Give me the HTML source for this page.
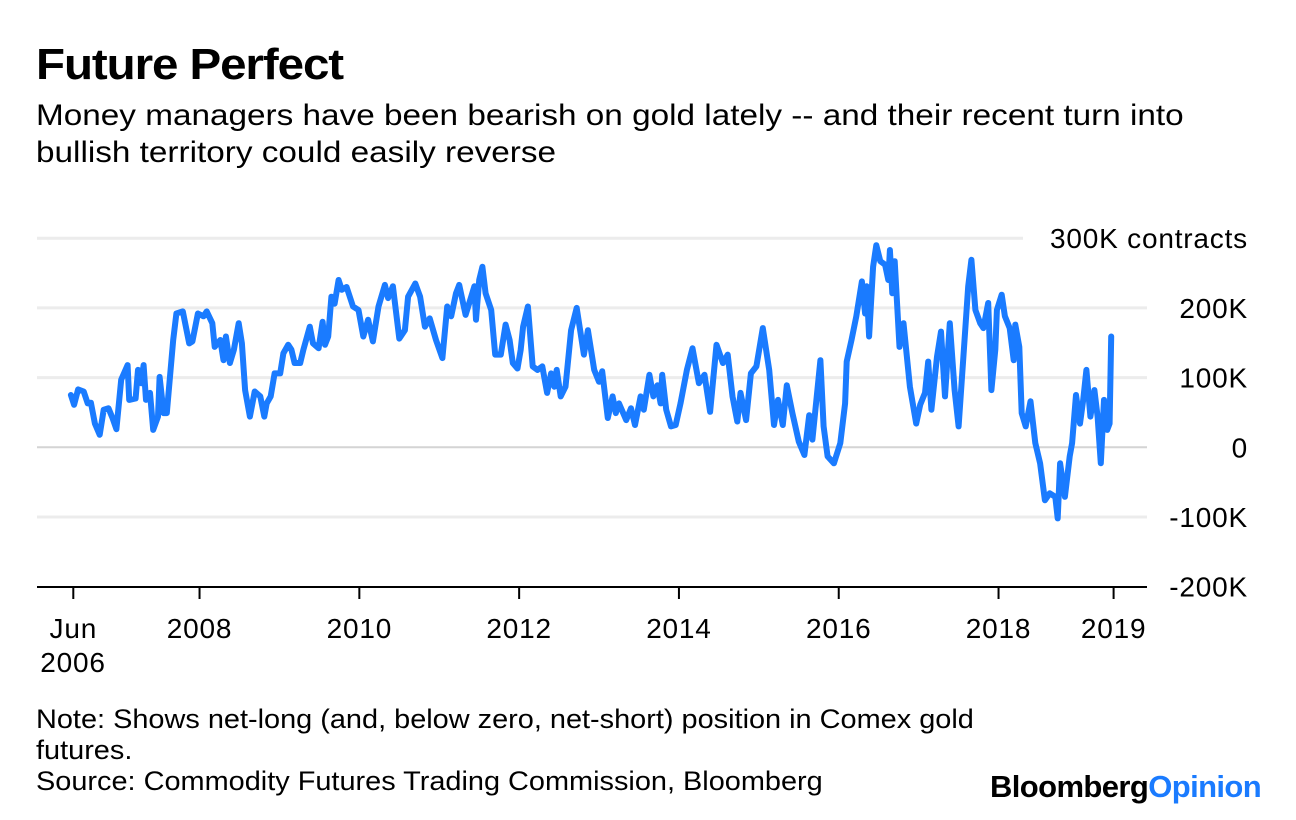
<!DOCTYPE html>
<html><head><meta charset="utf-8"><style>
html,body{margin:0;padding:0;background:#fff;}
body{width:1296px;height:820px;overflow:hidden;font-family:"Liberation Sans",sans-serif;color:#000;position:relative;}
.t{position:absolute;white-space:nowrap;transform-origin:0 0;}
</style></head><body>
<div class="t" style="left:36px;top:40px;font-size:44px;font-weight:bold;letter-spacing:-1px;transform:scaleX(1.08);">Future Perfect</div>
<div class="t" style="left:36px;top:97px;font-size:30px;line-height:37px;transform:scaleX(1.11);">Money managers have been bearish on gold lately -- and their recent turn into<br>bullish territory could easily reverse</div>
<svg id="chart" width="1296" height="700" style="position:absolute;left:0;top:0;"></svg>
<div class="t" style="left:36px;top:704px;font-size:27px;line-height:31px;transform:scaleX(1.07);">Note: Shows net-long (and, below zero, net-short) position in Comex gold<br>futures.<br>Source: Commodity Futures Trading Commission, Bloomberg</div>
<div class="t" style="left:990px;top:769px;font-size:31px;font-weight:bold;letter-spacing:-0.6px;">Bloomberg<span style="color:#1a7bff">Opinion</span></div>
<script>
const dates=[2006.39,2006.43,2006.48,2006.55,2006.60,2006.64,2006.69,2006.75,2006.80,2006.86,2006.91,2006.96,2007.02,2007.10,2007.12,2007.20,2007.23,2007.27,2007.30,2007.33,2007.38,2007.42,2007.48,2007.50,2007.55,2007.59,2007.67,2007.71,2007.79,2007.87,2007.91,2007.98,2008.05,2008.09,2008.16,2008.19,2008.26,2008.30,2008.33,2008.38,2008.43,2008.49,2008.53,2008.57,2008.63,2008.69,2008.76,2008.81,2008.84,2008.89,2008.94,2009.01,2009.05,2009.11,2009.15,2009.19,2009.26,2009.30,2009.38,2009.42,2009.49,2009.54,2009.57,2009.61,2009.65,2009.69,2009.74,2009.78,2009.84,2009.92,2009.99,2010.05,2010.11,2010.17,2010.24,2010.32,2010.36,2010.42,2010.50,2010.57,2010.61,2010.70,2010.76,2010.82,2010.88,2010.96,2011.04,2011.10,2011.15,2011.21,2011.25,2011.33,2011.40,2011.44,2011.46,2011.50,2011.54,2011.58,2011.65,2011.70,2011.77,2011.83,2011.88,2011.92,2011.98,2012.02,2012.05,2012.11,2012.17,2012.23,2012.29,2012.35,2012.40,2012.44,2012.47,2012.52,2012.58,2012.65,2012.72,2012.81,2012.86,2012.94,2013.00,2013.04,2013.11,2013.17,2013.21,2013.25,2013.34,2013.40,2013.45,2013.52,2013.56,2013.63,2013.68,2013.73,2013.77,2013.79,2013.84,2013.90,2013.96,2014.02,2014.10,2014.17,2014.25,2014.32,2014.39,2014.47,2014.55,2014.61,2014.67,2014.73,2014.77,2014.84,2014.90,2014.97,2015.05,2015.13,2015.19,2015.24,2015.30,2015.35,2015.42,2015.50,2015.57,2015.63,2015.67,2015.77,2015.81,2015.86,2015.94,2016.02,2016.08,2016.10,2016.16,2016.22,2016.29,2016.33,2016.35,2016.38,2016.43,2016.47,2016.52,2016.58,2016.62,2016.64,2016.67,2016.70,2016.76,2016.81,2016.89,2016.97,2017.02,2017.08,2017.12,2017.16,2017.23,2017.28,2017.33,2017.39,2017.45,2017.50,2017.56,2017.62,2017.66,2017.71,2017.77,2017.81,2017.87,2017.91,2017.96,2017.98,2018.04,2018.08,2018.14,2018.19,2018.21,2018.26,2018.29,2018.34,2018.40,2018.46,2018.52,2018.58,2018.64,2018.71,2018.74,2018.77,2018.83,2018.89,2018.92,2018.97,2019.02,2019.06,2019.10,2019.15,2019.20,2019.24,2019.28,2019.32,2019.36,2019.39,2019.41];
const values=[75,61,83,80,63,64,34,18,54,56,42,26,97,118,68,70,111,92,118,68,78,25,44,101,49,49,154,192,195,149,152,192,188,195,178,144,154,125,159,121,140,178,149,82,44,80,73,44,63,73,106,106,135,147,140,121,121,140,173,149,142,180,147,159,216,206,240,226,230,202,197,159,183,152,202,233,214,231,156,168,216,235,216,173,185,154,128,202,188,221,233,190,216,231,183,240,259,221,197,133,133,176,154,121,113,140,173,202,116,111,116,78,106,87,111,73,87,168,200,133,168,111,94,109,42,73,49,63,39,56,32,73,54,104,73,89,63,104,54,30,32,63,111,142,92,104,51,147,121,133,73,37,78,39,106,116,171,111,32,68,32,89,49,8,-11,46,11,125,30,-13,-23,6,63,123,154,188,238,192,231,159,259,290,267,262,240,283,221,267,144,178,87,34,61,78,123,54,130,166,73,178,82,30,130,231,269,197,178,171,207,82,140,197,219,188,171,125,176,144,49,30,66,6,-23,-76,-66,-71,-102,-23,-71,-13,6,75,34,68,111,44,82,44,-23,68,25,34,159];
const yTicks=[300,200,100,0,-100,-200];
const yTickLabels=["300K contracts","200K","100K","0","-100K","-200K"];
const xTicks=[2006.42,2008,2010,2012,2014,2016,2018,2019.44];
const xTickLabels=["Jun","2008","2010","2012","2014","2016","2018","2019"];
const NS="http://www.w3.org/2000/svg";
const svg=document.getElementById('chart');
const x=d=>73.3+(d-2006.42)*79.9;
const y=v=>447.3-v*0.697;
function mk(tag,attrs){const e=document.createElementNS(NS,tag);for(const k in attrs)e.setAttribute(k,attrs[k]);svg.appendChild(e);return e;}
yTicks.forEach((v,i)=>{
  if(v>-200){
    const g=mk('line',{x1:37,x2:v===300?1023:1147,y1:y(v),y2:y(v),stroke:v===0?'#d4d4d4':'#ececec','stroke-width':v===0?2:3});
    
    
  }
  const t=mk('text',{x:1248,y:y(v)+10,'text-anchor':'end','font-size':28,'letter-spacing':'0.8','font-family':'Liberation Sans, sans-serif'});
  t.textContent=yTickLabels[i];
  
  
});
const ax=mk('line',{x1:37,x2:1147,y1:587,y2:587,stroke:'#000','stroke-width':2});


xTicks.forEach((d,i)=>{
  const tk=mk('line',{x1:x(d),x2:x(d),y1:587,y2:599,stroke:'#000','stroke-width':2});
  
  
  const t=mk('text',{x:x(d),y:638,'text-anchor':'middle','font-size':28,'letter-spacing':'0.8','font-family':'Liberation Sans, sans-serif'});
  t.textContent=xTickLabels[i];
  
  
});
const t2=mk('text',{x:73,y:672,'text-anchor':'middle','font-size':28,'letter-spacing':'0.8','font-family':'Liberation Sans, sans-serif'});
t2.textContent='2006';


const pts=dates.map((d,i)=>x(d).toFixed(1)+','+y(values[i]).toFixed(1)).join(' ');
const pl=mk('polyline',{points:pts,fill:'none',stroke:'#1a7bff','stroke-width':6,'stroke-linejoin':'round','stroke-linecap':'round'});


</script>
</body></html>
